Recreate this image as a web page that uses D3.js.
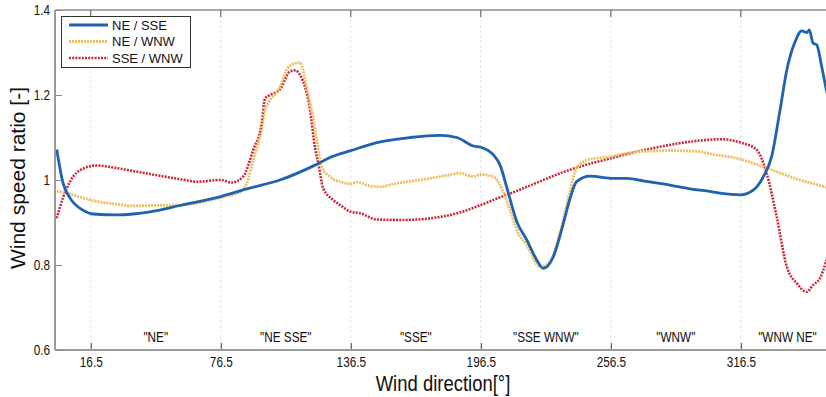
<!DOCTYPE html>
<html><head><meta charset="utf-8">
<script src="https://cdn.jsdelivr.net/npm/d3@7"></script>
<style>
body{margin:0;background:#fff;}
svg{display:block;}
</style></head>
<body>
<svg id="c" width="826" height="397"></svg>
<script>
// ---- data ----
const xTicks = [16.5, 76.5, 136.5, 196.5, 256.5, 316.5];
const yTicks = [0.6, 0.8, 1.0, 1.2, 1.4];
const yTickLabels = ["0.6", "0.8", "1", "1.2", "1.4"];
const sectorLabels = ['"NE"', '"NE SSE"', '"SSE"', '"SSE WNW"', '"WNW"', '"WNW NE"'];
const sectorPos = [46.5, 106.5, 166.5, 226.5, 286.5, 338];
const seriesNames = ["NE / SSE", "NE / WNW", "SSE / WNW"];

const dirNeSse = [0.8,3.7,6.9,12.9,17.5,28.6,36,43.8,57.7,76.5,88.5,103.8,120,126.9,136.5,148.5,163.8,177.7,185.4,193,196.5,202.3,205.4,208.4,213.1,217.7,222.3,225.3,230,234.6,237.7,240.7,246.9,256.4,263.8,271.5,283.8,293,300,306.9,316.4,322.2,326.9,330.7,334.6,337.7,341.5,344.6,346.9,348.1,349.8,351.5,353.8,355.8,357];
const valNeSse = [1.072,0.993,0.958,0.929,0.92,0.918,0.92,0.925,0.94,0.961,0.979,1.0,1.035,1.053,1.069,1.088,1.1,1.105,1.1,1.08,1.077,1.059,1.035,0.984,0.902,0.859,0.812,0.792,0.82,0.898,0.957,0.996,1.009,1.004,1.004,0.998,0.988,0.979,0.975,0.969,0.965,0.976,1.008,1.055,1.165,1.259,1.325,1.351,1.347,1.353,1.322,1.318,1.267,1.216,1.19];

const dirNeWnw = [0.8,6.9,12.9,20,28.6,36,43.8,57.7,76.5,85.4,88.5,91.5,94.6,96.9,98.3,103.8,106.9,109.8,113.1,114.4,116.8,118,119.1,120.8,123.1,126.9,133,136.5,139.2,145.4,150,157.7,168.4,180,186.9,193,196.5,202.3,205.4,210,213.1,217.7,223.8,228.4,233,237.7,240.7,246.9,256.4,268.4,283.8,297.6,300,316.4,328.4,343.8,355.8,357];
const valNeWnw = [0.974,0.967,0.958,0.949,0.943,0.939,0.94,0.941,0.959,0.972,0.992,1.047,1.102,1.165,1.18,1.219,1.259,1.273,1.276,1.26,1.2,1.175,1.15,1.094,1.031,1.008,0.994,0.991,0.995,0.986,0.984,0.992,1.0,1.01,1.016,1.008,1.013,1.008,0.988,0.929,0.882,0.847,0.796,0.808,0.875,0.975,1.028,1.049,1.055,1.066,1.069,1.067,1.064,1.049,1.028,1.0,0.983,0.981];

const dirSseWnw = [0.8,3.8,6.9,13.1,19.2,28.5,36.1,43.8,57.7,65.5,76.5,81.5,86.8,91.5,95.4,96.9,99.2,103.8,108.4,110.8,113.1,115.4,117.7,120,121.5,123.8,128.4,133,136.5,140.7,148.5,160.7,180,208.4,240,256.4,276.1,300,306.9,316.4,323.8,328.4,333,337.7,342.3,346.9,349.8,353,355.8,357];
const valSseWnw = [0.91,0.96,0.996,1.027,1.034,1.028,1.021,1.014,1.002,0.996,1.0,0.994,1.008,1.071,1.133,1.192,1.2,1.213,1.255,1.258,1.247,1.219,1.165,1.075,1.039,0.98,0.953,0.936,0.925,0.922,0.907,0.906,0.915,0.965,1.028,1.051,1.075,1.094,1.096,1.088,1.071,1.016,0.914,0.796,0.757,0.737,0.753,0.769,0.808,0.83];

// ---- layout ----
const svg = d3.select("#c");
const L = 55, T = 10, B = 350;
const x = d3.scaleLinear().domain([0, 360]).range([L, L + 360 * 2.167]);
const y = d3.scaleLinear().domain([0.6, 1.4]).range([B, T]);
const W = 826;

const fontR = "'Liberation Sans',Arial,sans-serif";
const narrow = "scale(0.84,1)";

// grid
svg.append("g").selectAll("line").data(xTicks).join("line")
  .attr("x1", d => x(d)).attr("x2", d => x(d))
  .attr("y1", T).attr("y2", B)
  .attr("stroke", "#e3e3e3").attr("stroke-width", 1)
  .attr("stroke-dasharray", "3,2");

// clip
svg.append("clipPath").attr("id", "clip").append("rect")
  .attr("x", L).attr("y", T).attr("width", W - L).attr("height", B - T);

const series = [
  {name: seriesNames[0], dir: dirNeSse, val: valNeSse, color: "#1f62ae", w: 2.8, dash: null},
  {name: seriesNames[1], dir: dirNeWnw, val: valNeWnw, color: "#eebd5e", w: 2.8, dash: "2,1"},
  {name: seriesNames[2], dir: dirSseWnw, val: valSseWnw, color: "#c92a3a", w: 2.6, dash: "2,1.2"}
];

const line = d3.line().x(d => x(d[0])).y(d => y(d[1])).curve(d3.curveMonotoneX);
const gLines = svg.append("g").attr("clip-path", "url(#clip)");
[series[2], series[1], series[0]].forEach(s => {
  const pts = s.dir.map((d, i) => [d, s.val[i]]);
  gLines.append("path").datum(pts)
    .attr("d", line).attr("fill", "none")
    .attr("stroke", s.color).attr("stroke-width", s.w)
    .attr("stroke-dasharray", s.dash);
});

// top border
svg.append("line").attr("x1", L).attr("x2", W).attr("y1", T).attr("y2", T)
  .attr("stroke", "#555").attr("stroke-width", 1.2);
svg.append("g").selectAll("line").data(xTicks).join("line")
  .attr("x1", d => x(d)).attr("x2", d => x(d)).attr("y1", T).attr("y2", T + 7)
  .attr("stroke", "#555").attr("stroke-width", 1);

// x axis
const xAxis = d3.axisBottom(x).tickValues(xTicks).tickFormat(d => d).tickSizeInner(-7).tickSizeOuter(0).tickPadding(7);
const gx = svg.append("g").attr("transform", `translate(0,${B})`).call(xAxis);
gx.select(".domain").remove();
gx.append("line").attr("x1", L).attr("x2", W).attr("y1", 0).attr("y2", 0)
  .attr("stroke", "#9a9a9a").attr("stroke-width", 2);
gx.selectAll(".tick line").attr("stroke", "#444");
gx.selectAll(".tick text").attr("fill", "#111").style("font-family", fontR).style("font-size", "14px")
  .attr("transform", narrow);

// y axis
const yAxis = d3.axisLeft(y).tickValues(yTicks).tickFormat((d, i) => yTickLabels[i]).tickSizeInner(-7).tickSizeOuter(0).tickPadding(6);
const gy = svg.append("g").attr("transform", `translate(${L},0)`).call(yAxis);
gy.select(".domain").remove();
gy.append("line").attr("x1", 0).attr("x2", 0).attr("y1", T).attr("y2", B)
  .attr("stroke", "#9a9a9a").attr("stroke-width", 2);
gy.selectAll(".tick line").attr("stroke", "#888");
gy.selectAll(".tick text").attr("fill", "#111").style("font-family", fontR).style("font-size", "14px")
  .attr("transform", narrow);

// sector labels
svg.append("g").selectAll("g").data(sectorLabels).join("g")
  .attr("transform", (d, i) => `translate(${x(sectorPos[i])},342)`)
  .append("text").attr("transform", narrow)
  .attr("text-anchor", "middle").style("font-family", fontR).style("font-size", "14px")
  .attr("fill", "#111").text(d => d);

// axis titles
svg.append("g").attr("transform", "translate(443,391)")
  .append("text").attr("transform", narrow).attr("text-anchor", "middle")
  .style("font-family", fontR).style("font-size", "22px").attr("fill", "#111")
  .text("Wind direction[°]");
svg.append("text").attr("transform", "translate(25,178) rotate(-90)").attr("text-anchor", "middle")
  .style("font-family", fontR).style("font-size", "21px").attr("fill", "#111")
  .text("Wind speed ratio [-]");

// legend
const lg = svg.append("g");
lg.append("rect").attr("x", 61.5).attr("y", 16.5).attr("width", 129).attr("height", 51)
  .attr("fill", "#fff").attr("stroke", "#333").attr("stroke-width", 1);
series.forEach((s, i) => {
  const yy = 25 + i * 16.5;
  lg.append("line").attr("x1", 69).attr("x2", 108).attr("y1", yy).attr("y2", yy)
    .attr("stroke", s.color).attr("stroke-width", s.w).attr("stroke-dasharray", s.dash);
  lg.append("text").attr("x", 112).attr("y", yy + 4.5).style("font-family", fontR)
    .style("font-size", "13px").attr("fill", "#111").text(s.name);
});
</script>
</body></html>
